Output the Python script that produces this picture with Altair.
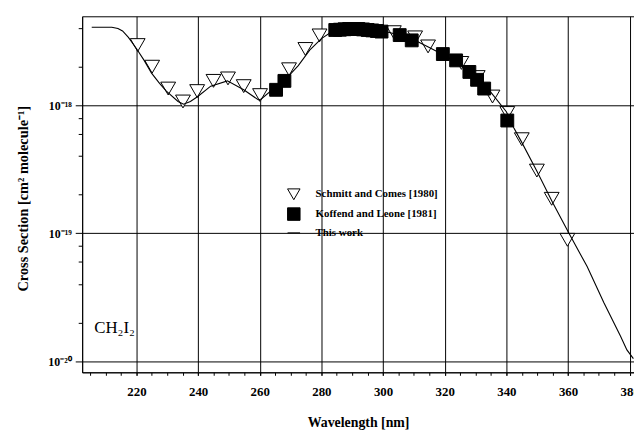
import altair as alt
import pandas as pd

S = "Schmitt and Comes [1980]"
K = "Koffend and Leone [1981]"
T = "This work"
series_names = [S, K, T]

# Schmitt and Comes [1980] (open triangles)
sc_wl = [220.4, 225.1, 230.3, 235.1, 239.7, 245.0, 249.7, 254.8, 260.1, 269.5, 274.8, 279.4,
         303.5, 310.4, 314.6, 325.4, 330.7, 335.5, 340.3, 345.0, 349.9, 354.7, 359.8]
sc_cs = [2.95e-18, 2.00e-18, 1.35e-18, 1.07e-18, 1.29e-18, 1.55e-18, 1.62e-18, 1.41e-18, 1.20e-18,
         1.91e-18, 2.75e-18, 3.51e-18, 3.72e-18, 3.39e-18, 2.88e-18, 2.14e-18, 1.66e-18, 1.17e-18,
         8.7e-19, 5.43e-19, 3.09e-19, 1.86e-19, 8.9e-20]

# Koffend and Leone [1981] (filled squares)
kl_wl = [265.3, 268.0, 284.5, 286.0, 287.5, 289.0, 290.5, 292.0, 293.5, 295.0, 296.5, 298.0, 299.5,
         305.4, 309.3, 319.4, 323.7, 328.0, 330.5, 332.8, 340.3]
kl_cs = [1.32e-18, 1.55e-18, 3.87e-18, 3.89e-18, 3.92e-18, 3.94e-18, 3.94e-18, 3.94e-18, 3.91e-18,
         3.87e-18, 3.84e-18, 3.80e-18, 3.76e-18, 3.53e-18, 3.21e-18, 2.51e-18, 2.24e-18, 1.82e-18,
         1.58e-18, 1.35e-18, 7.6e-19]

# This work (line)
tw_wl = [205.5, 209, 212, 214, 215.5, 217.4, 220.1, 222.5, 224.9, 227.5, 229.7, 233.5, 235.3, 237.5,
         239.9, 244.1, 249.5, 254.8, 259.6, 260.5, 264, 268.2, 272.5, 276.2, 280, 283.7, 288, 292, 296,
         300, 305, 310, 315, 320, 325, 330, 335, 340, 342.4, 345, 350, 355, 360.3, 366.2, 371.6, 377,
         379.1, 381.2]
tw_cs = [4.07e-18, 4.07e-18, 4.07e-18, 3.98e-18, 3.80e-18, 3.39e-18, 2.75e-18, 2.24e-18, 1.78e-18,
         1.48e-18, 1.29e-18, 1.07e-18, 1.02e-18, 1.07e-18, 1.17e-18, 1.41e-18, 1.55e-18, 1.32e-18,
         1.10e-18, 1.12e-18, 1.32e-18, 1.58e-18, 2.04e-18, 2.69e-18, 3.31e-18, 3.80e-18, 3.98e-18,
         4.03e-18, 3.98e-18, 3.80e-18, 3.55e-18, 3.24e-18, 2.82e-18, 2.45e-18, 2.09e-18, 1.66e-18,
         1.26e-18, 8.9e-19, 6.68e-19, 5.13e-19, 3.02e-19, 1.74e-19, 1.00e-19, 5.5e-20, 2.88e-20,
         1.58e-20, 1.23e-20, 1.05e-20]

x_major = [220, 240, 260, 280, 300, 320, 340, 360, 380]
x_minor = list(range(205, 381, 5))
y_ticks = [1e-20, 2e-20, 4e-20, 6e-20, 8e-20, 1e-19, 2e-19, 4e-19, 6e-19, 8e-19, 1e-18, 2e-18, 4e-18]
x_domain = [202.4, 381.4]
y_domain = [8.22e-21, 4.95e-18]

label_text = ["CH\u2082I\u2082"]
label_wl = [212.9]
label_cs = [1.83e-20]

FONT = "Liberation Serif"

sc_df = pd.DataFrame({"wl": sc_wl, "cs": sc_cs, "series": S})
kl_df = pd.DataFrame({"wl": kl_wl, "cs": kl_cs, "series": K})
tw_df = pd.DataFrame({"wl": tw_wl, "cs": tw_cs, "series": T})
lab_df = pd.DataFrame({"wl": label_wl, "cs": label_cs, "text": label_text})

LOGV = "log(datum.value)/LN10"
IS_DEC = f"abs({LOGV} - round({LOGV})) < 0.01"
Y_LABEL = (f"{IS_DEC} ? (round({LOGV}) == -18 ? '10\u207b\u00b9\u2078' : "
           f"(round({LOGV}) == -19 ? '10\u207b\u00b9\u2079' : '10\u207b\u00b2\u2070')) : ''")

x_scale = alt.Scale(domain=x_domain, nice=False, zero=False)

x_major_axis = alt.Axis(
    title="Wavelength [nm]",
    orient="bottom",
    values=x_major,
    labelOverlap=False,
    grid=True,
    gridColor="black",
    gridWidth=1,
    gridOpacity=1,
    domain=True,
    domainColor="black",
    ticks=True,
    tickColor="black",
    tickSize=3,
    labelFont=FONT,
    labelFontSize=13,
    labelFontWeight="bold",
    labelColor="black",
    labelPadding=10,
    labelFlush=False,
    titleFont=FONT,
    titleFontSize=14,
    titleFontWeight="bold",
    titleColor="black",
    titleX=279,
    titleY=51,
    titleBaseline="middle",
    titleAlign="center",
)

x_minor_axis = alt.Axis(
    title=None,
    orient="bottom",
    values=x_minor,
    labels=False,
    grid=False,
    domain=False,
    ticks=True,
    tickColor="black",
    tickSize=3,
)

y_enc = alt.Y(
    "cs:Q",
    scale=alt.Scale(type="log", domain=y_domain, nice=False),
    axis=alt.Axis(
        title="Cross Section [cm\u00b2 molecule\u207b\u00b9]",
        values=y_ticks,
        labelExpr=Y_LABEL,
        labelOverlap=False,
        labelBound=False,
        grid=True,
        gridColor="black",
        gridWidth=1,
        gridOpacity={"condition": {"test": IS_DEC, "value": 1}, "value": 0},
        domain=True,
        domainColor="black",
        ticks=True,
        tickColor="black",
        tickSize={"condition": {"test": IS_DEC, "value": 7}, "value": 4},
        labelFont=FONT,
        labelFontSize=12,
        labelFontWeight="bold",
        labelColor="black",
        labelPadding=4,
        labelBaseline="middle",
        titleFont=FONT,
        titleFontSize=14.5,
        titleFontWeight="bold",
        titleColor="black",
        titleAngle=270,
        titleX=-59,
        titleY=184,
        titleBaseline="middle",
        titleAlign="center",
    ),
)

shape_scale = alt.Scale(domain=series_names, range=["triangle-down", "square", "M-1,0H1"])
fill_scale = alt.Scale(domain=series_names, range=["white", "black", "transparent"])
stroke_scale = alt.Scale(domain=series_names, range=["black", "black", "black"])
legend = alt.Legend(
    title=None,
    orient="none",
    legendX=207,
    legendY=173,
    padding=0,
    labelFont=FONT,
    labelFontSize=11,
    labelFontWeight="bold",
    labelColor="black",
    labelOffset=15,
    symbolSize=160,
    symbolStrokeWidth=1,
    rowPadding=3,
)


def points(df, size, axis):
    return alt.Chart(df).mark_point(filled=False, strokeWidth=1, opacity=1, size=size).encode(
        x=alt.X("wl:Q", scale=x_scale, axis=axis),
        y=y_enc,
        shape=alt.Shape("series:N", scale=shape_scale, legend=legend),
        fill=alt.Fill("series:N", scale=fill_scale, legend=legend),
        stroke=alt.Stroke("series:N", scale=stroke_scale, legend=legend),
    )


tri = points(sc_df, 225, x_major_axis)
sq = points(kl_df, 169, None)

line = alt.Chart(tw_df).mark_line(color="black", strokeWidth=1.1).encode(
    x=alt.X("wl:Q", scale=x_scale, axis=x_minor_axis),
    y="cs:Q",
    order="wl:Q",
)

txt = alt.Chart(lab_df).mark_text(font=FONT, fontSize=17, color="black", align="center", baseline="middle").encode(
    x=alt.X("wl:Q", scale=x_scale, axis=None),
    y="cs:Q",
    text="text:N",
)

chart = alt.layer(tri, sq, line, txt).resolve_axis(x="independent").properties(
    width=558,
    height=360,
    autosize=alt.AutoSizeParams(type="none"),
    padding={"left": 75, "top": 6, "right": 0, "bottom": 60},
    background="white",
).configure_view(
    stroke="black",
    strokeWidth=1,
)

chart.save("out.html", embed_options={"renderer": "svg", "actions": False})
